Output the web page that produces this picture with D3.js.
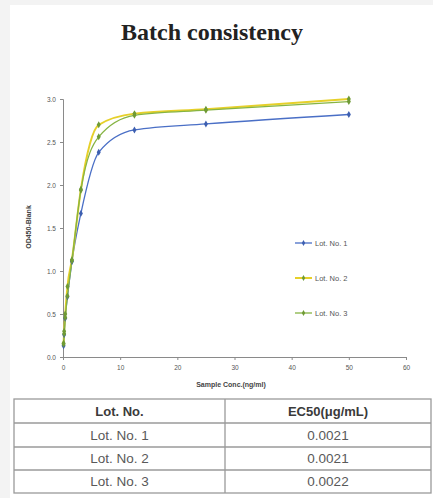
<!DOCTYPE html>
<html>
<head>
<meta charset="utf-8">
<script src="https://cdn.jsdelivr.net/npm/d3@7"></script>
<style>
  body { margin: 0; background: #f3f3f3; }
  svg { display: block; }
</style>
</head>
<body>
<script>
// Batch consistency chart + EC50 table

var conc = [0.1, 0.2, 0.39, 0.78, 1.56, 3.13, 6.25, 12.5, 25, 50];
var lot1 = [0.13, 0.26, 0.45, 0.70, 1.11, 1.67, 2.38, 2.64, 2.71, 2.82];
var lot2 = [0.16, 0.30, 0.50, 0.82, 1.13, 1.95, 2.70, 2.83, 2.88, 3.00];
var lot3 = [0.15, 0.27, 0.46, 0.71, 1.12, 1.94, 2.56, 2.81, 2.87, 2.97];
var lotNames = ["Lot. No. 1", "Lot. No. 2", "Lot. No. 3"];
var lotColors = ["#4a6fc6", "#e6d02a", "#86b443"];
var xTicks = [0, 10, 20, 30, 40, 50, 60];
var yTicks = [0, 0.5, 1.0, 1.5, 2.0, 2.5, 3.0];
var tableHeader = ["Lot. No.", "EC50(μg/mL)"];
var ec50 = ["0.0021", "0.0021", "0.0022"];

var sans = "Liberation Sans, Arial, sans-serif";
var svg = d3.select("body").append("svg").attr("width", 433).attr("height", 498);

// white panel
svg.append("rect").attr("x", 10).attr("y", 5).attr("width", 423).attr("height", 493).attr("fill", "#fff");

svg.append("text").attr("x", 212).attr("y", 40)
  .attr("text-anchor", "middle")
  .style("font-family", "Liberation Serif, serif").style("font-weight", "bold").style("font-size", "24px")
  .style("fill", "#222")
  .text("Batch consistency");

var xScale = d3.scaleLinear().domain([0, 60]).range([63, 406]);
var yScale = d3.scaleLinear().domain([0, 3]).range([357, 99]);

var xAxis = d3.axisBottom(xScale).tickValues(xTicks).tickSize(3).tickPadding(5).tickFormat(d3.format("d"));
var yAxis = d3.axisLeft(yScale).tickValues(yTicks).tickSize(3).tickPadding(4).tickFormat(d3.format(".1f"));

function styleAxis(g) {
  g.select(".domain").attr("stroke", "#8a8a8a");
  g.selectAll(".tick line").attr("stroke", "#8a8a8a");
  g.selectAll(".tick text").style("font-family", sans)
    .style("font-size", "6.5px").style("fill", "#555");
}

svg.append("g").attr("transform", "translate(0," + yScale(0) + ")").call(xAxis).call(styleAxis);
svg.append("g").attr("transform", "translate(" + xScale(0) + ",0)").call(yAxis).call(styleAxis);

svg.append("text").attr("x", 231).attr("y", 387).attr("text-anchor", "middle")
  .style("font-family", sans).style("font-size", "7px")
  .style("font-weight", "bold").style("fill", "#444")
  .text("Sample Conc.(ng/ml)");

svg.append("text").attr("transform", "translate(31,227) rotate(-90)").attr("text-anchor", "middle")
  .style("font-family", sans).style("font-size", "7px")
  .style("font-weight", "bold").style("fill", "#444")
  .text("OD450-Blank");

var series = [lot1, lot2, lot3];
var line = d3.line()
  .x(function(d, i){ return xScale(conc[i]); })
  .y(function(d){ return yScale(d); })
  .curve(d3.curveMonotoneX);

var plotG = svg.append("g");
series.forEach(function(vals, s) {
  plotG.append("path").datum(vals)
    .attr("d", line)
    .attr("fill", "none")
    .attr("stroke", lotColors[s])
    .attr("stroke-width", s == 1 ? 2 : 1.3);
});
series.forEach(function(vals, s) {
  plotG.selectAll(".pt" + s).data(vals).enter()
    .append("path")
    .attr("class", "pt" + s)
    .attr("d", d3.symbol().type(d3.symbolDiamond).size(14))
    .attr("transform", function(d, i){ return "translate(" + xScale(conc[i]) + "," + yScale(d) + ")"; })
    .attr("fill", s == 0 ? "#3d5fb0" : "#6f9a35");
});

// legend
var legend = svg.append("g");
lotNames.forEach(function(name, i) {
  var ly = 243 + i * 35;
  legend.append("line").attr("x1", 295).attr("x2", 312).attr("y1", ly).attr("y2", ly)
    .attr("stroke", lotColors[i]).attr("stroke-width", i == 1 ? 2 : 1.3);
  legend.append("path").attr("d", d3.symbol().type(d3.symbolDiamond).size(10))
    .attr("transform", "translate(303.5," + ly + ")")
    .attr("fill", i == 0 ? "#3d5fb0" : "#6f9a35");
  legend.append("text").attr("x", 315).attr("y", ly + 2.5)
    .style("font-family", sans).style("font-size", "7.5px")
    .style("fill", "#555").text(name);
});

// EC50 table
var tX = 14, tW = 417, colSplit = 225;
var rowY = [399, 423, 447, 470, 493];
var table = svg.append("g");
var rows = [tableHeader].concat(lotNames.map(function(n, i){ return [n, ec50[i]]; }));

table.append("rect").attr("x", tX).attr("y", rowY[0]).attr("width", tW).attr("height", rowY[4] - rowY[0])
  .attr("fill", "#fff").attr("stroke", "#9a9a9a").attr("stroke-width", 1.3);
rowY.slice(1, 4).forEach(function(y) {
  table.append("line").attr("x1", tX).attr("x2", tX + tW).attr("y1", y).attr("y2", y)
    .attr("stroke", "#9a9a9a").attr("stroke-width", 1.3);
});
table.append("line").attr("x1", colSplit).attr("x2", colSplit).attr("y1", rowY[0]).attr("y2", rowY[4])
  .attr("stroke", "#9a9a9a").attr("stroke-width", 1.3);

rows.forEach(function(r, i) {
  var cy = (rowY[i] + rowY[i + 1]) / 2 + 4.5;
  [ (tX + colSplit) / 2, (colSplit + tX + tW) / 2 ].forEach(function(cx, j) {
    table.append("text").attr("x", cx).attr("y", cy).attr("text-anchor", "middle")
      .style("font-family", sans).style("font-size", i == 0 ? "13px" : "13.5px")
      .style("font-weight", i == 0 ? "bold" : "normal")
      .style("fill", i == 0 ? "#3a3a3a" : "#595959")
      .text(r[j]);
  });
});
</script>
</body>
</html>
